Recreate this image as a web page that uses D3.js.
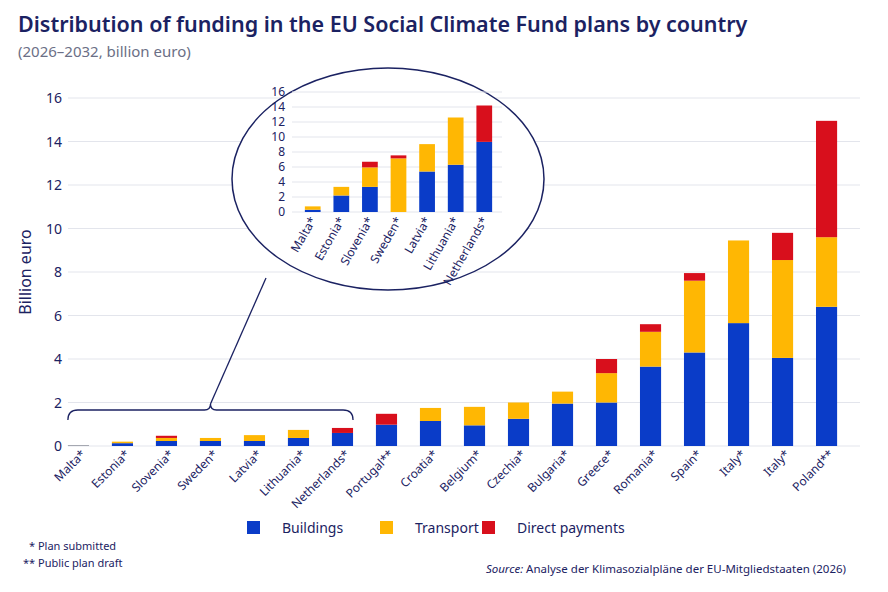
<!DOCTYPE html>
<html><head><meta charset="utf-8">
<script src="https://cdn.jsdelivr.net/npm/d3@7"></script>
<style>body{margin:0;background:#fff;font-family:"Noto Sans",sans-serif}</style>
</head><body><div id="chart"></div>
<script>
// Main chart data (billion euro)
var countries = ["Malta*","Estonia*","Slovenia*","Sweden*","Latvia*","Lithuania*","Netherlands*","Portugal**","Croatia*","Belgium*","Czechia*","Bulgaria*","Greece*","Romania*","Spain*","Italy*","Italy*","Poland**"];
var buildings = [0.02,0.13,0.23,0.23,0.23,0.37,0.6,0.98,1.15,0.95,1.25,1.95,2.0,3.65,4.3,5.65,4.05,6.4];
var transport = [0.01,0.07,0.14,0.14,0.27,0.37,0,0,0.6,0.85,0.75,0.55,1.35,1.6,3.3,3.8,4.5,3.2];
var direct    = [0,0,0.1,0,0,0,0.23,0.5,0,0,0,0,0.65,0.35,0.35,0,1.25,5.35];
var yTicks = [0,2,4,6,8,10,12,14,16];

// Inset data (zoomed view of small plans)
var insetCountries = ["Malta*","Estonia*","Slovenia*","Sweden*","Latvia*","Lithuania*","Netherlands*"];
var insetBuildings = [0.3,2.2,3.35,0,5.4,6.3,9.35];
var insetTransport = [0.45,1.15,2.6,7.15,3.65,6.3,0];
var insetDirect    = [0,0,0.75,0.4,0,0,4.85];
var insetTicks = [0,2,4,6,8,10,12,14,16];

var seriesNames = ["Buildings","Transport","Direct payments"];
var colors = ["#0a3cc8","#ffb703","#d80f1c"];
var navy = "#1b2262";

var W = 888, H = 592;
var svg = d3.select("#chart").append("svg").attr("width", W).attr("height", H);

svg.append("text").attr("x", 18).attr("y", 32).attr("fill", navy)
  .attr("font-size", 21.5).attr("font-weight", 600)
  .text("Distribution of funding in the EU Social Climate Fund plans by country");
svg.append("text").attr("x", 18).attr("y", 57).attr("fill", "#6b6f86")
  .attr("font-size", 15).text("(2026\u20132032, billion euro)");

function stackRows(names, a, b, c) {
  return names.map(function (n, i) { return {key: i, name: n, v: [a[i], b[i], c[i]]}; });
}

// Main scales
var x = d3.scaleBand().domain(d3.range(countries.length)).range([45, 860]).padding(0.52);
var y = d3.scaleLinear().domain([0, 16]).range([446, 98]);

var grid = svg.append("g");
yTicks.forEach(function (t) {
  grid.append("line").attr("x1", 68).attr("x2", 860).attr("y1", y(t)).attr("y2", y(t))
    .attr("stroke", "#e3e5ec").attr("stroke-width", 1);
  grid.append("text").attr("x", 62).attr("y", y(t) + 5).attr("text-anchor", "end")
    .attr("fill", navy).attr("font-size", 14).text(t);
});
svg.append("text").attr("transform", "translate(31,272)rotate(-90)").attr("text-anchor", "middle")
  .attr("fill", navy).attr("font-size", 16).text("Billion euro");

var stack = d3.stack().keys([0, 1, 2]).value(function (d, k) { return d.v[k]; });

function drawBars(g, rows, xs, ys) {
  var layers = stack(rows);
  g.selectAll("g.layer").data(layers).enter().append("g")
    .attr("fill", function (d, i) { return colors[i]; })
    .selectAll("rect").data(function (d) { return d; }).enter().append("rect")
    .attr("x", function (d) { return xs(d.data.key); })
    .attr("width", xs.bandwidth())
    .attr("y", function (d) { return ys(d[1]); })
    .attr("height", function (d) { return Math.max(0, ys(d[0]) - ys(d[1])); });
}

drawBars(svg.append("g"), stackRows(countries, buildings, transport, direct), x, y);

svg.append("g").selectAll("text").data(countries).enter().append("text")
  .attr("transform", function (d, i) { return "translate(" + (x(i) + x.bandwidth() / 2 + 8) + ",455)rotate(-45)"; })
  .attr("text-anchor", "end").attr("fill", navy).attr("font-size", 12).text(function (d) { return d; });

// Bracket and connector
var bx0 = x(0), bx1 = x(6) + x.bandwidth(), bm = (bx0 + bx1) / 2, by = 410;
svg.append("path").attr("fill", "none").attr("stroke", navy).attr("stroke-width", 1.3)
  .attr("d", "M" + bx0 + "," + (by + 10) + " Q" + bx0 + "," + by + " " + (bx0 + 10) + "," + by +
    " L" + (bm - 6) + "," + by + " Q" + bm + "," + by + " " + bm + "," + (by - 6) +
    " Q" + bm + "," + by + " " + (bm + 6) + "," + by + " L" + (bx1 - 10) + "," + by +
    " Q" + bx1 + "," + by + " " + bx1 + "," + (by + 10));
svg.append("line").attr("x1", bm).attr("y1", by - 6).attr("x2", 266).attr("y2", 278)
  .attr("stroke", navy).attr("stroke-width", 1.3);

// Inset
svg.append("ellipse").attr("cx", 388).attr("cy", 179).attr("rx", 156).attr("ry", 111)
  .attr("fill", "#fff").attr("stroke", navy).attr("stroke-width", 1.5);
var ix = d3.scaleBand().domain(d3.range(insetCountries.length)).range([292, 505]).padding(0.45);
var iy = d3.scaleLinear().domain([0, 16]).range([212, 92]);
var ig = svg.append("g");
insetTicks.forEach(function (t) {
  ig.append("line").attr("x1", 292).attr("x2", 502).attr("y1", iy(t)).attr("y2", iy(t))
    .attr("stroke", "#e3e5ec");
  ig.append("text").attr("x", 285).attr("y", iy(t) + 4).attr("text-anchor", "end")
    .attr("fill", navy).attr("font-size", 12).text(t);
});
drawBars(ig, stackRows(insetCountries, insetBuildings, insetTransport, insetDirect), ix, iy);
ig.selectAll("text.lab").data(insetCountries).enter().append("text")
  .attr("transform", function (d, i) { return "translate(" + (ix(i) + ix.bandwidth() / 2 + 4) + ",220)rotate(-60)"; })
  .attr("text-anchor", "end").attr("fill", navy).attr("font-size", 12).text(function (d) { return d; });

// Legend
var lx = [247, 380, 482];
seriesNames.forEach(function (s, i) {
  svg.append("rect").attr("x", lx[i]).attr("y", 521).attr("width", 13).attr("height", 13).attr("fill", colors[i]);
  svg.append("text").attr("x", lx[i] + 35).attr("y", 533).attr("fill", navy).attr("font-size", 14).text(s);
});

// Notes
svg.append("text").attr("x", 29).attr("y", 550).attr("fill", navy).attr("font-size", 11).text("*   Plan submitted");
svg.append("text").attr("x", 23).attr("y", 567).attr("fill", navy).attr("font-size", 11).text("**  Public plan draft");
svg.append("text").attr("x", 846).attr("y", 573).attr("text-anchor", "end").attr("fill", navy).attr("font-size", 11.5)
  .html("<tspan font-style='italic'>Source:</tspan>  Analyse der Klimasozialpläne der EU-Mitgliedstaaten (2026)");
</script></body></html>
